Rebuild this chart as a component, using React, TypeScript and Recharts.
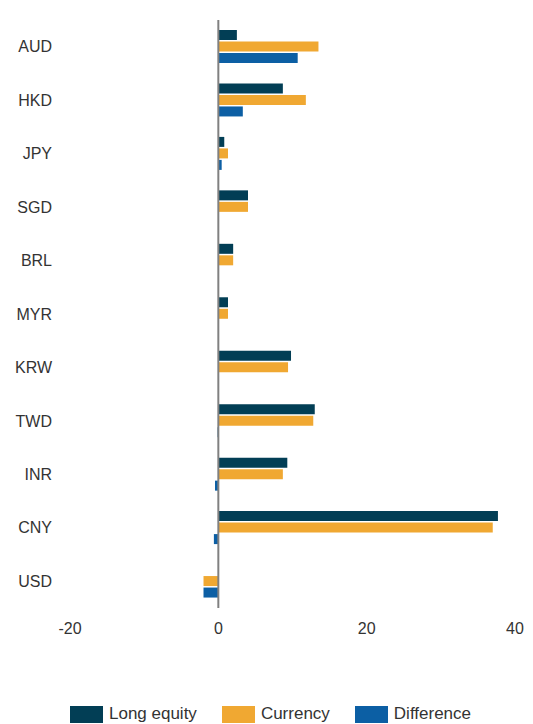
import React from "react";
import {
  BarChart,
  Bar,
  XAxis,
  YAxis,
  ReferenceLine,
} from "recharts";

const currencies = ["AUD", "HKD", "JPY", "SGD", "BRL", "MYR", "KRW", "TWD", "INR", "CNY", "USD"];
const longEquity = [2.5, 8.7, 0.8, 4.0, 2.0, 1.3, 9.8, 13.0, 9.3, 37.7, 0];
const currency = [13.5, 11.8, 1.3, 4.0, 2.0, 1.3, 9.4, 12.8, 8.7, 37.0, -2.0];
const difference = [10.7, 3.3, 0.45, 0, 0, 0, 0, -0.1, -0.45, -0.6, -2.0];
const xTicks = [-20, 0, 20, 40];

const series = [
  { key: "longEquity", name: "Long equity", color: "#023e55" },
  { key: "currency", name: "Currency", color: "#f0a832" },
  { key: "difference", name: "Difference", color: "#0c5fa4" },
];

const data = currencies.map((c, i) => ({
  currency: c,
  longEquity: longEquity[i],
  currency_: currency[i],
  difference: difference[i],
}));

const FONT = '"Liberation Sans", Arial, sans-serif';
const tickStyle = { fontSize: 16, fill: "#333", fontFamily: FONT };

function Legend() {
  return (
    <div
      style={{
        display: "flex",
        justifyContent: "center",
        alignItems: "center",
        marginTop: 46,
        fontFamily: FONT,
        fontSize: 17,
        color: "#333",
        width: 525,
        gap: 25,
      }}
    >
      {series.map((s) => (
        <div key={s.key} style={{ display: "flex", alignItems: "center", gap: 6 }}>
          <span style={{ display: "inline-block", width: 33, height: 17, background: s.color }} />
          <span>{s.name}</span>
        </div>
      ))}
    </div>
  );
}

export default function App() {
  return (
    <div style={{ width: 525 }}>
      <BarChart
        width={525}
        height={650}
        data={data}
        layout="vertical"
        margin={{ top: 12, right: 18, bottom: 10, left: 0 }}
        barSize={10}
        barGap={1.5}
      >
        <XAxis
          type="number"
          domain={[-20, 40]}
          ticks={xTicks}
          axisLine={false}
          tickLine={false}
          tickSize={0}
          tickMargin={15}
          height={40}
          tick={tickStyle}
        />
        <YAxis
          type="category"
          dataKey="currency"
          width={62}
          axisLine={false}
          tickLine={false}
          tickSize={0}
          tickMargin={18}
          tick={tickStyle}
        />
        <Bar dataKey="longEquity" name="Long equity" fill={series[0].color} isAnimationActive={false} />
        <Bar dataKey="currency_" name="Currency" fill={series[1].color} isAnimationActive={false} />
        <Bar dataKey="difference" name="Difference" fill={series[2].color} isAnimationActive={false} />
        <ReferenceLine x={0} stroke="#808080" strokeWidth={2} />
      </BarChart>
      <Legend />
    </div>
  );
}
